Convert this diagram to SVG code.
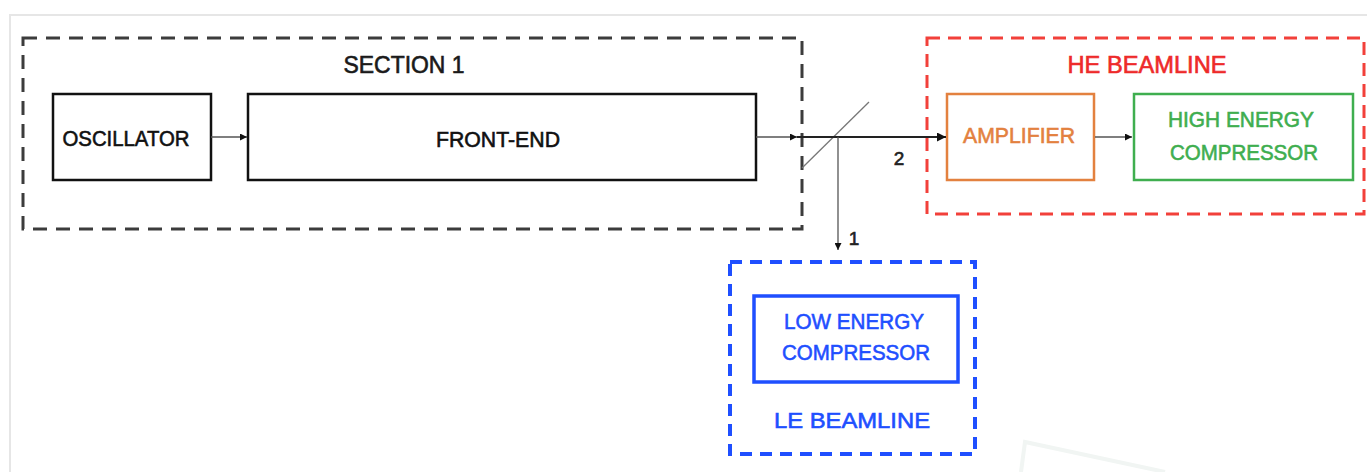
<svg xmlns="http://www.w3.org/2000/svg" width="1367" height="472" viewBox="0 0 1367 472">
<style>
  text { font-family: "Liberation Sans", Arial, sans-serif; font-size: 22px; text-anchor: middle; stroke-width: 0.6; paint-order: stroke; }
  .title { font-size: 23px; }
  .box { fill: #ffffff; }
  .conn { fill: none; stroke: #555555; stroke-width: 1.3; }
</style>
<defs>
  <marker id="arr" viewBox="0 0 10 10" refX="10" refY="5" markerWidth="7" markerHeight="7" markerUnits="userSpaceOnUse" orient="auto">
    <path d="M0,0 L10,5 L0,10 z" fill="#111111"/>
  </marker>
  <marker id="arrBig" viewBox="0 0 10 10" refX="10" refY="5" markerWidth="9" markerHeight="9" markerUnits="userSpaceOnUse" orient="auto">
    <path d="M0,0 L10,5 L0,10 z" fill="#111111"/>
  </marker>
</defs>
<rect width="1367" height="472" fill="#ffffff"/>
<g id="page-frame" fill="none" stroke="#e6e6e6" stroke-width="2">
  <path d="M10,472 L10,15 L1367,15"/>
  <path d="M1021,472 L1025,442 L1165,472" stroke="#f1f5f3" stroke-width="4"/>
</g>

<g id="section1">
  <rect x="23" y="38" width="779" height="191" fill="none" stroke="#3c3c3c" stroke-width="3" stroke-dasharray="14 9"/>
  <text class="title" x="404" y="73" fill="#1a1a1a" stroke="#1a1a1a" textLength="121" lengthAdjust="spacingAndGlyphs">SECTION 1</text>
</g>

<g id="he-beamline">
  <rect x="927" y="38" width="437" height="176" fill="none" stroke="#f2403a" stroke-width="3" stroke-dasharray="13 8"/>
  <text class="title" x="1147" y="73" fill="#ee2a2a" stroke="#ee2a2a" textLength="159" lengthAdjust="spacingAndGlyphs">HE BEAMLINE</text>
</g>

<g id="le-beamline">
  <rect x="730" y="262" width="245" height="192" fill="none" stroke="#1f4fff" stroke-width="4" stroke-dasharray="12 8"/>
  <text x="852" y="428" fill="#1f4fff" stroke="#1f4fff" textLength="156" lengthAdjust="spacingAndGlyphs">LE BEAMLINE</text>
</g>

<g id="oscillator">
  <rect class="box" x="53" y="94" width="158" height="86" stroke="#111111" stroke-width="2.5"/>
  <text x="126" y="146" fill="#111111" stroke="#111111" textLength="127" lengthAdjust="spacingAndGlyphs">OSCILLATOR</text>
</g>

<g id="front-end">
  <rect class="box" x="248" y="94" width="508" height="86" stroke="#111111" stroke-width="2.5"/>
  <text x="498" y="147" fill="#111111" stroke="#111111" textLength="124" lengthAdjust="spacingAndGlyphs">FRONT-END</text>
</g>

<g id="amplifier">
  <rect class="box" x="947" y="94" width="147" height="86" stroke="#e3813f" stroke-width="2.5"/>
  <text x="1019" y="143" fill="#e3813f" stroke="#e3813f" textLength="112" lengthAdjust="spacingAndGlyphs">AMPLIFIER</text>
</g>

<g id="high-energy-compressor">
  <rect class="box" x="1134" y="94" width="219" height="86" stroke="#3fae4f" stroke-width="2.5"/>
  <text x="1241" y="127" fill="#3fae4f" stroke="#3fae4f" textLength="146" lengthAdjust="spacingAndGlyphs">HIGH ENERGY</text>
  <text x="1244" y="160" fill="#3fae4f" stroke="#3fae4f" textLength="148" lengthAdjust="spacingAndGlyphs">COMPRESSOR</text>
</g>

<g id="low-energy-compressor">
  <rect class="box" x="754" y="296" width="204" height="86" stroke="#1f4fff" stroke-width="3.5"/>
  <text x="854" y="329" fill="#1f4fff" stroke="#1f4fff" textLength="140" lengthAdjust="spacingAndGlyphs">LOW ENERGY</text>
  <text x="856" y="360" fill="#1f4fff" stroke="#1f4fff" textLength="148" lengthAdjust="spacingAndGlyphs">COMPRESSOR</text>
</g>

<g id="beam-splitter">
  <line x1="802" y1="168" x2="869" y2="102" stroke="#777777" stroke-width="1.3"/>
</g>

<g id="connectors">
  <line class="conn" x1="211" y1="137" x2="247" y2="137" marker-end="url(#arr)"/>
  <line class="conn" x1="756" y1="137" x2="797" y2="137" stroke="#999999" marker-end="url(#arr)"/>
  <line x1="797" y1="137" x2="946" y2="137" stroke="#222222" stroke-width="2" marker-end="url(#arrBig)"/>
  <line class="conn" x1="838" y1="137" x2="838" y2="250" stroke="#666666" marker-end="url(#arr)"/>
  <line class="conn" x1="1095" y1="137" x2="1132" y2="137" marker-end="url(#arr)"/>
  <text x="899" y="165" fill="#222222" stroke="#222222" style="font-size:19px">2</text>
  <text x="854" y="245" fill="#222222" stroke="#222222" style="font-size:19px">1</text>
</g>
</svg>
